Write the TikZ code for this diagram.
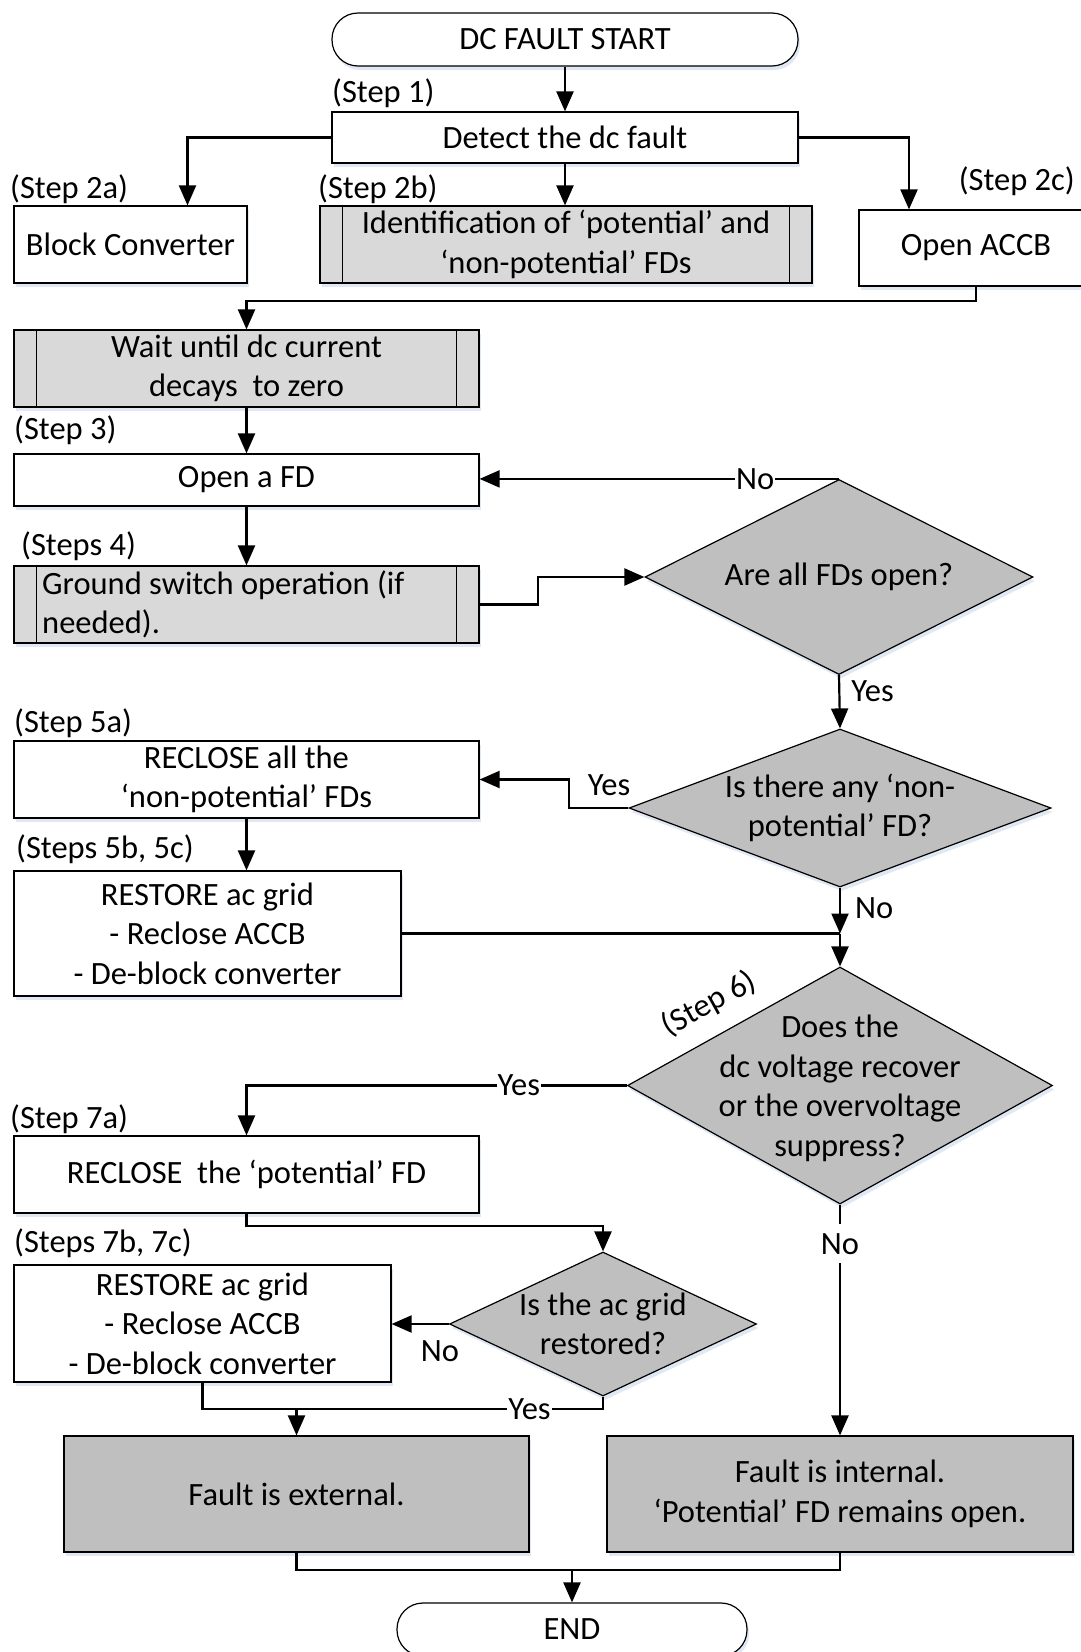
\documentclass[tikz,border=0pt]{standalone}
\usepackage{fontspec}
\setmainfont{Carlito}
\usetikzlibrary{arrows.meta,shapes.geometric,shadows}
\definecolor{procgray}{HTML}{D9D9D9}
\definecolor{decgray}{HTML}{BFBFBF}
\definecolor{shadowblue}{HTML}{DCE6F2}
\begin{document}
\begin{tikzpicture}[x=1pt,y=-1pt,
  font=\fontsize{32.5}{39.5}\selectfont,
  every node/.style={inner sep=0pt},
  soft/.style={drop shadow={shadow xshift=2pt,shadow yshift=-4pt,fill=shadowblue,opacity=0.9}},
  term/.style={draw=black,line width=1.2pt,fill=white,rounded corners=26pt,soft},
  proc/.style={draw=black,line width=1.2pt,fill=white,align=center,soft},
  pred/.style={draw=black,line width=1.2pt,fill=procgray,align=center,soft},
  dec/.style={diamond,draw=black,line width=1.2pt,fill=decgray,soft},
  result/.style={draw=black,line width=1.2pt,fill=decgray,align=center,soft},
  steplbl/.style={anchor=west},
  conn/.style={line width=2.2pt,-{Triangle[length=20pt,width=17pt]}},
  link/.style={line width=2.2pt},
  lbl/.style={fill=white,inner xsep=1pt,inner ysep=2pt},
]
\useasboundingbox (0,0) rectangle (1081,1652);
\clip (0,0) rectangle (1081,1652);

% ---- process boxes ----
\node[term,minimum width=466,minimum height=53] (start) at (565,39.5) {DC FAULT START};
\node[proc,minimum width=466,minimum height=51] (detect) at (565,137.5) {Detect the dc fault};
\node[proc,minimum width=233,minimum height=77] (block) at (130.5,244.5) {Block Converter};
\node[pred,minimum width=492,minimum height=77] (ident) at (566,244.5)
  {Identification of ‘potential’ and\\‘non-potential’ FDs};
\node[proc,minimum width=234,minimum height=76] (accb) at (976,248) {Open ACCB};
\node[pred,minimum width=465,minimum height=77] (wait) at (246.5,368.5)
  {Wait until dc current\\decays\ \ to zero};
\node[proc,minimum width=465,minimum height=52] (openfd) at (246.5,480) {Open a FD};
\node[pred,minimum width=465,minimum height=77] (ground) at (246.5,604.5) {};
\node[anchor=west,align=left] (groundtxt) at (42,604.5) {Ground switch operation (if\\needed).};
\node[proc,minimum width=465,minimum height=77] (reclose) at (246.5,779.5)
  {RECLOSE all the\\‘non-potential’ FDs};
\node[proc,minimum width=387,minimum height=125] (restoreA) at (207.5,933.5)
  {RESTORE ac grid\\- Reclose ACCB\\- De-block converter};
\node[proc,minimum width=465,minimum height=77] (reclosepot) at (246.5,1174.5)
  {RECLOSE\ \ the ‘potential’ FD};
\node[proc,minimum width=377,minimum height=117] (restoreB) at (202.5,1323.5)
  {RESTORE ac grid\\- Reclose ACCB\\- De-block converter};
\node[result,minimum width=465,minimum height=116] (ext) at (296.5,1494) {Fault is external.};
\node[result,minimum width=466,minimum height=116] (int) at (840,1494)
  {Fault is internal.\\‘Potential’ FD remains open.};
\node[term,minimum width=350,minimum height=53] (end) at (572,1629.5) {END};

% predefined-process side bars
\foreach \b in {ident,wait,ground}{
  \draw[line width=1.2pt] ([xshift=23pt]\b.north west) -- ([xshift=23pt]\b.south west);
  \draw[line width=1.2pt] ([xshift=-23pt]\b.north east) -- ([xshift=-23pt]\b.south east);
}

% ---- decisions ----
\node[dec,minimum width=388,minimum height=195] (d1) at (839,577) {};
\node (t1) at (d1) {Are all FDs open?};
\node[dec,minimum width=422,minimum height=158] (d2) at (840,808) {};
\node[align=center] (t2) at (d2) {Is there any ‘non-\\potential’ FD?};
\node[dec,minimum width=425,minimum height=237] (d3) at (840,1085.5) {};
\node[align=center] (t3) at ([yshift=-3pt]d3.center) {Does the\\dc voltage recover\\or the overvoltage\\suppress?};
\node[dec,minimum width=307,minimum height=144] (d4) at (603,1324) {};
\node[align=center] (t4) at (d4) {Is the ac grid\\restored?};

% ---- step labels ----
\node[steplbl] (s1) at (332,93) {(Step 1)};
\node[steplbl] (s2a) at (10,189) {(Step 2a)};
\node[steplbl] (s2b) at (318,189) {(Step 2b)};
\node[anchor=east] (s2c) at (1075,181) {(Step 2c)};
\node[steplbl] (s3) at (14,430) {(Step 3)};
\node[steplbl] (s4) at (21,546) {(Steps 4)};
\node[steplbl] (s5a) at (14,723) {(Step 5a)};
\node[steplbl] (s5b) at (16,849) {(Steps 5b, 5c)};
\node[rotate=29] (s6) at (709,1004) {(Step 6)};
\node[steplbl] (s7a) at (10,1119) {(Step 7a)};
\node[steplbl] (s7b) at (14,1243) {(Steps 7b, 7c)};

% ---- connectors ----
\coordinate (g1) at (538,577);
\coordinate (k1) at (569,779.5);
\coordinate (j1) at (840,933.5);
\coordinate (j2) at (296.5,1409);
\coordinate (j3) at (572,1570);

\draw[conn] (start) -- (detect);
\draw[conn] (detect.west) -| ([xshift=57pt]block.north);
\draw[conn] (detect.south) -- (detect.south |- ident.north);
\draw[conn] (detect.east) -| ([xshift=-67pt]accb.north);
\draw[conn] (accb.south) -- ++(0,14) -| (wait.north);
\draw[conn] (wait) -- (openfd);
\draw[conn] (openfd) -- (ground);
\draw[conn] (ground.east) -| (g1) -- (d1.west);
\draw[conn] (d1.north) -- node[lbl,pos=0.233] {No} (d1.north -| openfd.east);
\draw[conn] (d1.south) -- node[pos=0.3,anchor=west,xshift=11pt] {Yes} (d2.north);
\draw[conn] (d2.west) -| (k1) -- (reclose.east);
\node (y2) at (609,785) {Yes};
\draw[conn] (reclose.south) -- (reclose.south |- restoreA.north);
\draw[conn] (d2.south) -- node[pos=0.45,anchor=west,xshift=14pt] {No} (j1);
\draw[link] (restoreA.east) -- (j1);
\draw[conn] (j1) -- (d3.north);
\draw[conn] (d3.west) -| node[lbl,pos=0.142] {Yes} (reclosepot.north);
\draw[conn] (reclosepot.south) -- ++(0,12) -| (d4.north);
\draw[conn] (d4.west) -- (d4.west -| restoreB.east);
\node (n4) at (440,1351) {No};
\draw[link] (d4.south) |- node[lbl,pos=0.62] {Yes} (j2);
\draw[link] (restoreB.south) |- (j2);
\draw[conn] (j2) -- (ext.north);
\draw[conn] (d3.south) -- node[fill=white,inner xsep=2pt,inner ysep=9pt,pos=0.17] {No} (int.north);
\draw[link] (ext.south) |- (int.south |- j3) -- (int.south);
\draw[conn] (j3) -- (end.north);
\end{tikzpicture}
\end{document}
